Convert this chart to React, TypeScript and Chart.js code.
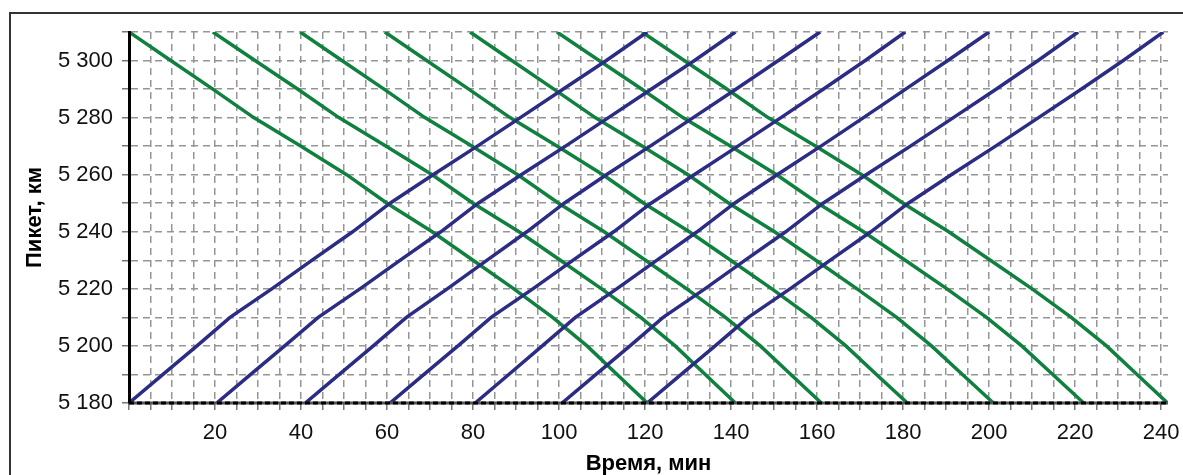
import React, { useEffect, useRef } from "react";
import { Chart, registerables } from "chart.js";

Chart.register(...registerables);

// Stations (km) — northbound (increasing) and southbound (decreasing)
const KM_NORTH = [5180, 5190, 5200, 5210, 5220, 5230, 5240, 5250, 5260, 5270, 5280, 5290, 5300, 5310];
const KM_SOUTH = [5310, 5300, 5290, 5280, 5270, 5260, 5250, 5240, 5230, 5220, 5210, 5200, 5190, 5180];

const X_TICK_LABELS = [20, 40, 60, 80, 100, 120, 140, 160, 180, 200, 220, 240];
const Y_TICK_LABELS = [5180, 5200, 5220, 5240, 5260, 5280, 5300];

// Times (min) at each station, blue trains (going up)
const BLUE_1 = [0, 7.9, 15.8, 23.5, 33.2, 42.5, 52, 60.7, 70.7, 81, 91, 101, 111, 120.5];
const BLUE_2 = [20.4, 28.3, 36.2, 44, 53.7, 63, 72.5, 81.2, 91.2, 101.5, 111.5, 121.5, 131.5, 141];
const BLUE_3 = [41, 48.9, 56.8, 64.5, 74, 83.2, 92.5, 101.2, 111, 121.2, 131.2, 141.2, 151, 160.7];
const BLUE_4 = [60.7, 68.6, 76.5, 84.2, 93.9, 103.2, 112.7, 121.4, 131.4, 141.6, 151.6, 161.5, 171.2, 180.5];
const BLUE_5 = [80.5, 88.3, 96.1, 103.8, 113.4, 122.7, 132.1, 140.8, 150.7, 160.9, 170.8, 180.6, 190.4, 200];
const BLUE_6 = [100.7, 108.6, 116.5, 124.2, 133.9, 143.2, 152.7, 161.4, 171.4, 181.7, 191.7, 201.7, 211.4, 220.7];
const BLUE_7 = [120.5, 128.4, 136.3, 144, 153.7, 163, 172.5, 181.2, 191.2, 201.5, 211.5, 221.5, 231.2, 240.5];

// Times (min) at each station, green trains (going down)
const GREEN_1 = [0, 9.7, 19.5, 29, 40, 50.6, 60, 70.5, 80, 89.5, 98.5, 106.5, 113.5, 120.5];
const GREEN_2 = [19.5, 29.3, 39.2, 48.8, 59.8, 70.5, 80, 90.7, 100.3, 109.9, 119, 127, 134, 141];
const GREEN_3 = [39.8, 49.5, 59.3, 68.8, 79.8, 90.4, 99.9, 110.5, 120.1, 129.7, 138.7, 146.8, 153.9, 161];
const GREEN_4 = [59.5, 69.2, 79, 88.6, 99.6, 110.2, 119.7, 130.3, 139.9, 149.5, 158.6, 166.7, 173.8, 181];
const GREEN_5 = [79.3, 89, 98.8, 108.4, 119.4, 130, 139.5, 150.1, 159.7, 169.3, 178.5, 186.6, 193.8, 201];
const GREEN_6 = [99.5, 109.3, 119.2, 128.8, 139.9, 150.6, 160.2, 170.8, 180.5, 190.2, 199.4, 207.6, 214.8, 222];
const GREEN_7 = [119.3, 129.1, 139, 148.6, 159.7, 170.4, 180, 190.6, 200.3, 210, 219.1, 227.3, 234.4, 241.5];

const BLUE_TRAINS = [BLUE_1, BLUE_2, BLUE_3, BLUE_4, BLUE_5, BLUE_6, BLUE_7];
const GREEN_TRAINS = [GREEN_1, GREEN_2, GREEN_3, GREEN_4, GREEN_5, GREEN_6, GREEN_7];

const BLUE = "#2c2c84";
const GREEN = "#10803f";
const FONT = "'Liberation Sans', Arial, sans-serif";

const fmtKm = (v: number) => {
  const s = String(Math.round(v));
  return s.length === 4 ? s[0] + " " + s.slice(1) : s;
};

const bottomAxisPlugin = {
  id: "bottomAxisDashed",
  afterDatasetsDraw(chart: any) {
    const { ctx, chartArea } = chart;
    const { left, right, bottom } = chartArea;
    ctx.save();
    ctx.lineWidth = 3;
    ctx.strokeStyle = "#555";
    ctx.beginPath();
    ctx.moveTo(left, bottom);
    ctx.lineTo(right, bottom);
    ctx.stroke();
    ctx.setLineDash([5, 3]);
    ctx.strokeStyle = "#000";
    ctx.beginPath();
    ctx.moveTo(left, bottom);
    ctx.lineTo(right, bottom);
    ctx.stroke();
    ctx.restore();
  },
};

export default function App() {
  const ref = useRef<HTMLCanvasElement | null>(null);

  useEffect(() => {
    if (!ref.current) return;
    const datasets: any[] = [];
    const common = {
      borderWidth: 3.5,
      pointRadius: 0,
      tension: 0,
      fill: false,
    };
    BLUE_TRAINS.forEach((times, k) => {
      datasets.push({
        ...common,
        label: "Blue " + (k + 1),
        data: times.map((t, i) => ({ x: t, y: KM_NORTH[i] })),
        borderColor: BLUE,
      });
    });
    GREEN_TRAINS.forEach((times, k) => {
      datasets.push({
        ...common,
        label: "Green " + (k + 1),
        data: times.map((t, i) => ({ x: t, y: KM_SOUTH[i] })),
        borderColor: GREEN,
      });
    });

    const chart = new Chart(ref.current, {
      type: "line",
      data: { datasets },
      plugins: [bottomAxisPlugin],
      options: {
        animation: false,
        responsive: false,
        devicePixelRatio: 1,
        layout: { padding: { left: 20, top: 32, right: 15, bottom: 0 } },
        plugins: { legend: { display: false }, tooltip: { enabled: false } },
        scales: {
          x: {
            type: "linear",
            min: 0,
            max: 241.6,
            afterBuildTicks: (s: any) => {
              s.ticks = s.ticks.filter((t: any) => Math.abs(t.value / 5 - Math.round(t.value / 5)) < 1e-6);
            },
            afterFit: (s: any) => {
              s.height = 72;
              s.paddingRight = 0;
              s.paddingLeft = 0;
            },
            ticks: {
              stepSize: 5,
              includeBounds: false,
              autoSkip: false,
              maxRotation: 0,
              padding: 10,
              color: "#111",
              font: { family: FONT, size: 22 },
              callback: (v: any) => (X_TICK_LABELS.includes(Math.round(v)) ? String(Math.round(v)) : ""),
            },
            grid: { color: "#959595", lineWidth: 1.5, tickLength: 7, tickColor: "#777", tickWidth: 1.5 },
            border: { display: false, dash: [7, 5] },
            title: {
              display: true,
              text: "Время, мин",
              color: "#000",
              font: { family: FONT, size: 22, weight: "bold", lineHeight: 1 },
              padding: { top: 0, bottom: 0 },
            },
          },
          y: {
            type: "linear",
            min: 5180,
            max: 5310,
            afterFit: (s: any) => {
              s.width = 109;
              s.paddingTop = 0;
              s.paddingBottom = 0;
            },
            ticks: {
              stepSize: 10,
              autoSkip: false,
              padding: 9,
              color: "#111",
              font: { family: FONT, size: 22 },
              callback: (v: any) => (Y_TICK_LABELS.includes(Math.round(v)) ? fmtKm(v) : ""),
            },
            grid: { color: "#959595", lineWidth: 1.5, tickLength: 7, tickColor: "#777", tickWidth: 1.5 },
            border: { display: true, color: "#000", width: 3, dash: [7, 5], z: 1 },
            title: {
              display: true,
              text: "Пикет, км",
              color: "#000",
              font: { family: FONT, size: 22, weight: "bold", lineHeight: 1 },
              padding: { top: 4, bottom: 0 },
            },
          },
        },
      } as any,
    });
    return () => chart.destroy();
  }, []);

  return (
    <div
      style={{
        position: "fixed",
        left: 0,
        top: 0,
        width: 1183,
        height: 475,
        background: "#fff",
        overflow: "hidden",
      }}
    >
      <div
        style={{
          position: "absolute",
          left: 9,
          top: 12,
          width: 1300,
          height: 600,
          borderLeft: "2px solid #333",
          borderTop: "2px solid #333",
        }}
      />
      <canvas ref={ref} width={1183} height={475} style={{ position: "absolute", left: 0, top: 0 }} />
    </div>
  );
}
